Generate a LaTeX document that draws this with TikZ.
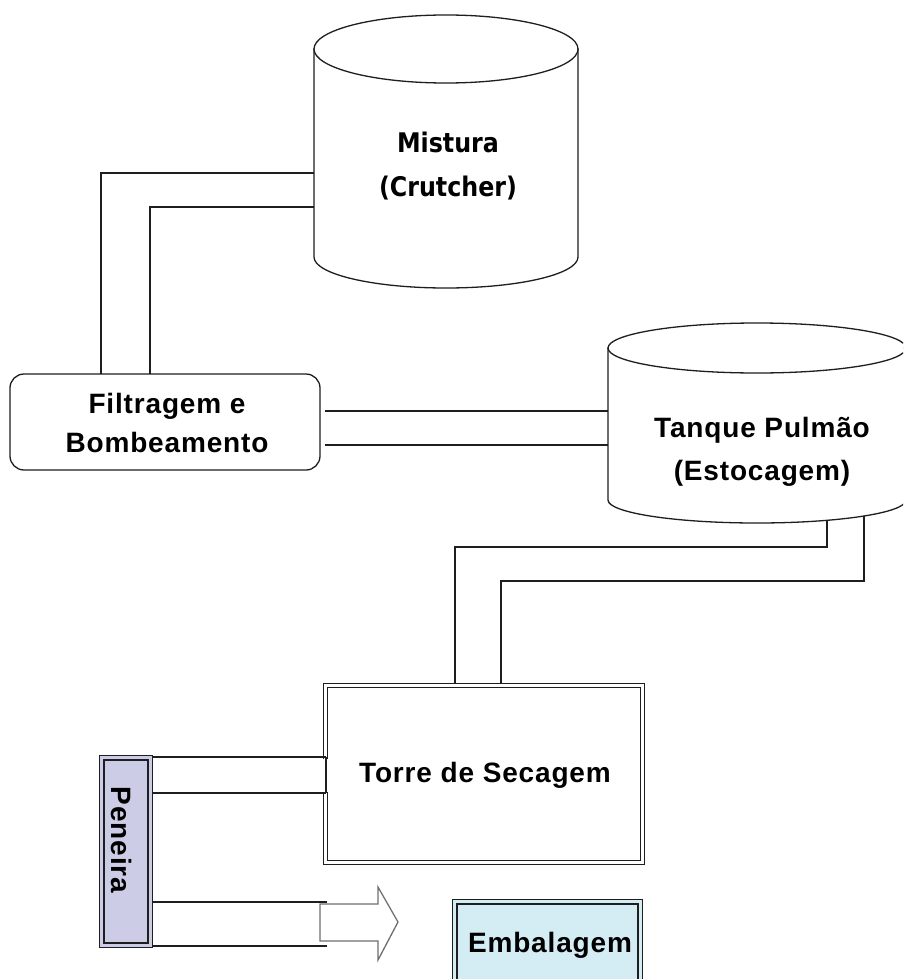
\documentclass[tikz,border=0pt]{standalone}
\usepackage{fontspec}
\setmainfont{Liberation Sans}[LetterSpace=3]
\newfontfamily\cylfont{DejaVu Sans}[FakeStretch=0.88]

\definecolor{ink}{HTML}{1E1E1E}
\definecolor{sievefill}{HTML}{CCCCE6}
\definecolor{packfill}{HTML}{D4ECF4}
\definecolor{arrowgray}{HTML}{6E6E6E}

% vertical tank: centre x, x radius, top-ellipse y, its y radius, bottom y, its y radius
\newcommand\drawtank[6]{%
  \filldraw[tankline] ({#1-#2},#3) -- ({#1-#2},#5)
    arc[start angle=180, end angle=0, x radius=#2, y radius=#6]
    -- ({#1+#2},#3) -- cycle;
  \filldraw[tankline] (#1,#3) ellipse[x radius=#2, y radius=#4];
}

\begin{document}
\begin{tikzpicture}[x=1pt, y=-1pt,
  pipe/.style={draw=ink, line width=1.3pt},
  tankline/.style={draw=ink, fill=white, line width=1.3pt},
  lbl/.style={font=\bfseries\fontsize{28}{39}\selectfont, text=black, align=center, inner sep=0pt},
  cyllbl/.style={font=\cylfont\bfseries\fontsize{27}{44}\selectfont, text=black, align=center, inner sep=0pt},
  procbox/.style={draw=ink, line width=1.3pt, fill=white, rounded corners=14pt, inner sep=0pt},
  dblbox/.style={draw=ink, line width=1.3pt, double distance=3pt, inner sep=0pt},
  blockarrow/.style={draw=arrowgray, line width=1.3pt, fill=white, line join=miter}
]
\useasboundingbox (0,0) rectangle (903,979);
\clip (0,0) rectangle (903,979);

% ---------- tanks ----------
\drawtank{446}{132}{49}{34}{257}{31}
\node[cyllbl] (mistura) at (448,166) {Mistura\\(Crutcher)};

\drawtank{757}{149}{348}{25}{500}{23}
\node[lbl, font=\bfseries\fontsize{28}{43}\selectfont] (tanque) at (762,452) {Tanque Pulmão\\(Estocagem)};

% ---------- process boxes ----------
\node[procbox, minimum width=310, minimum height=96] (filtragem) at (165,422) {};
\node[lbl] (filtragemText) at (167,423) {Filtragem e\\Bombeamento};

\node[dblbox, double=white, fill=white, minimum width=317, minimum height=177] (torre) at (484,774) {};
\node[lbl] (torreText) at (485,775) {Torre de Secagem};

\node[dblbox, double=sievefill, fill=sievefill, minimum width=48.4, minimum height=187.4] (peneira) at (126,851.5) {};
\node[lbl, rotate=-90] (peneiraText) at (122,840) {Peneira};

\node[dblbox, double=packfill, fill=packfill, minimum width=185.4, minimum height=120] (embalagem) at (547.5,961.8) {};
\node[lbl] (embalagemText) at (550,945) {Embalagem};

% ---------- pipe end points ----------
\coordinate (mixOut1) at (314,173);
\coordinate (mixOut2) at (314,207);
\coordinate (filIn1) at (101,374);
\coordinate (filIn2) at (150,374);
\coordinate (filOut1) at (325,411);
\coordinate (filOut2) at (325,445);
\coordinate (tankIn1) at (608,411);
\coordinate (tankIn2) at (608,445);
\coordinate (tankOut1) at (827,520.3);
\coordinate (tankOut2) at (864,515.9);
\coordinate (bend1) at (455,547);
\coordinate (bend2) at (501,581);
\coordinate (towerIn1) at (455,683);
\coordinate (towerIn2) at (501,683);
\coordinate (towerOut1) at (326,757);
\coordinate (towerOut2) at (326,793);
\coordinate (sieveIn1) at (153,757);
\coordinate (sieveIn2) at (153,793);
\coordinate (sieveOut1) at (153,902);
\coordinate (sieveOut2) at (153,946);
\coordinate (outEnd1) at (327,902);
\coordinate (outEnd2) at (327,946);

% ---------- pipes ----------
\draw[pipe] (mixOut1) -| (filIn1);
\draw[pipe] (mixOut2) -| (filIn2);
\draw[pipe] (filOut1) -- (tankIn1);
\draw[pipe] (filOut2) -- (tankIn2);
\draw[pipe] (tankOut1) |- (bend1) -- (towerIn1);
\draw[pipe] (tankOut2) |- (bend2) -- (towerIn2);

% opening in the tower wall where the sieve line enters
\fill[white] (321,758.5) rectangle (331,791.5);
\draw[pipe] (towerOut1) -- (towerOut2);
\draw[pipe] (sieveIn1) -- (towerOut1);
\draw[pipe] (sieveIn2) -- (towerOut2);

% ---------- product outlet ----------
\draw[blockarrow] (320,904) -- (378,904) -- (378,887) -- (398,922) -- (378,960)
  -- (378,941) -- (320,941) -- cycle;
\draw[pipe] (sieveOut1) -- (outEnd1);
\draw[pipe] (sieveOut2) -- (outEnd2);
\end{tikzpicture}
\end{document}
